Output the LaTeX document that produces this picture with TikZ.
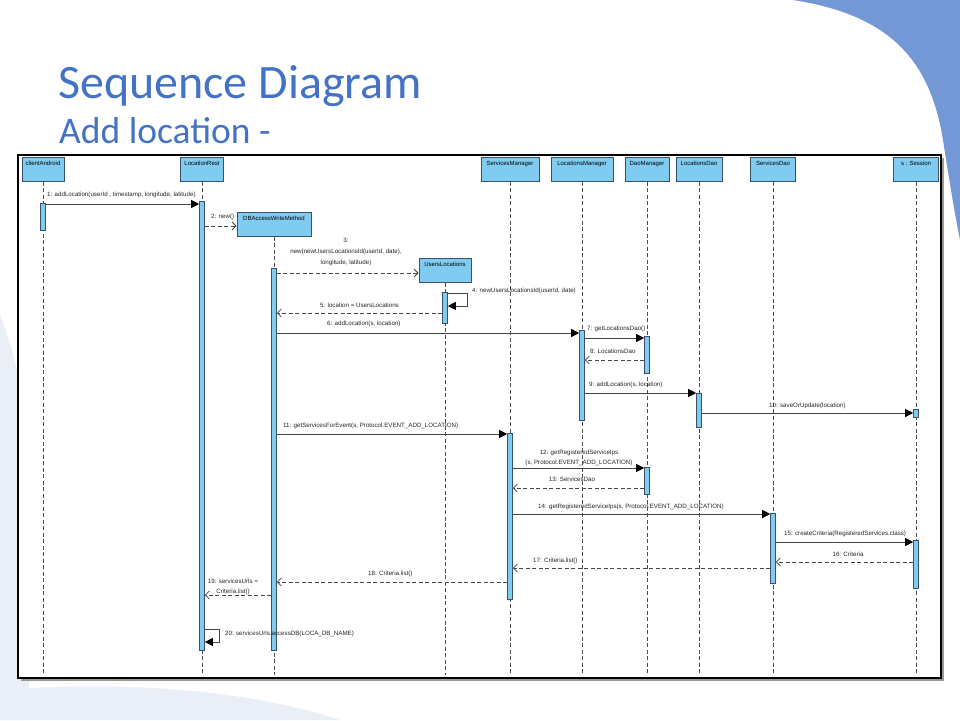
\documentclass[tikz,border=0pt]{standalone}
\usepackage{fontspec}
\setmainfont{Carlito}
\newfontfamily\labfont{Liberation Sans}
\usetikzlibrary{arrows.meta}
\definecolor{titleblue}{RGB}{68,114,196}
\definecolor{swoosh}{RGB}{116,151,214}
\definecolor{faint}{RGB}{234,239,247}
\definecolor{headfill}{RGB}{128,204,240}
\definecolor{headdraw}{RGB}{60,80,105}
\definecolor{msgcol}{RGB}{70,70,70}
\tikzset{
  lab/.style={font=\labfont\fontsize{6.2}{7}\selectfont, inner sep=0pt, text=black!85},
  head/.style={draw=headdraw, fill=headfill, line width=0.8pt, anchor=north, minimum height=24pt,
    inner sep=0pt, text height=6pt, text depth=13pt, font=\labfont\fontsize{6}{7}\selectfont},
  lifeline/.style={draw=black!70, line width=0.6pt, dash pattern=on 4pt off 2.5pt},
  act/.style={draw=headdraw, fill=headfill, line width=0.6pt, minimum width=5pt, inner sep=0pt, anchor=north},
  msg/.style={draw=msgcol, line width=0.8pt, -{Triangle[length=8pt,width=8pt,color=black]}},
  ret/.style={draw=msgcol, line width=0.8pt, dash pattern=on 4pt off 2.5pt, -{Straight Barb[length=4pt,width=8pt]}}
}
\begin{document}
\begin{tikzpicture}[x=1pt,y=-1pt]
\useasboundingbox (0,0) rectangle (960,720);
% background decoration
\fill[faint] (0,315) .. controls (35,400) and (45,560) .. (25,720) -- (0,720) -- cycle;
\fill[faint] (0,690) .. controls (120,680) and (250,690) .. (340,720) -- (0,720) -- cycle;
\fill[swoosh] (793,0) .. controls (890,15) and (930,60) .. (943,140) .. controls (950,185) and (955,215) .. (960,240) -- (960,0) -- cycle;
% titles
\node[anchor=base west, inner sep=0pt, text=titleblue, font=\fontsize{48}{52}\selectfont] (title) at (58,98) {Sequence Diagram};
\node[anchor=base west, inner sep=0pt, text=titleblue, font=\fontsize{37.5}{40}\selectfont] (subtitle) at (59,143) {Add location -};
% frame
\fill[black!40] (21,158) rectangle (944,681);
\draw[black, line width=1.2pt, fill=white] (18,155) rectangle (941,678);
% heads
\node[head, minimum width=42pt] (CA) at (43,157) {clientAndroid};
\node[head, minimum width=43pt] (LR) at (202,157) {LocationRest};
\node[head, minimum width=74pt] (DB) at (274,212) {DBAccessWriteMethod};
\node[head, minimum width=52pt] (UL) at (445,258) {UsersLocations};
\node[head, minimum width=58pt] (SM) at (510,157) {ServicesManager};
\node[head, minimum width=62pt] (LM) at (582,157) {LocationsManager};
\node[head, minimum width=44pt] (DM) at (647,157) {DaoManager};
\node[head, minimum width=46pt] (LD) at (699,157) {LocationsDao};
\node[head, minimum width=45pt] (SD) at (773,157) {ServicesDao};
\node[head, minimum width=45pt] (SS) at (916,157) {s : Session};
% lifeline ends
\foreach \n in {CA,LR,DB,UL,SM,LM,DM,LD,SD,SS}{
  \coordinate (\n end) at (\n.south |- 0,675);
  \draw[lifeline] (\n.south) -- (\n end);
}
% activations
\node[act, minimum height=27pt] (aCA) at (43,203) {};
\node[act, minimum height=449pt] (aLR) at (202,201) {};
\node[act, minimum height=382pt] (aDB) at (274,268) {};
\node[act, minimum height=31pt] (aUL) at (445,292) {};
\node[act, minimum height=90pt] (aLM) at (582,330) {};
\node[act, minimum height=37pt] (aDM1) at (647,336) {};
\node[act, minimum height=34pt] (aLD) at (699,393) {};
\node[act, minimum height=8pt] (aSS1) at (916,409) {};
\node[act, minimum height=166pt] (aSM) at (510,433) {};
\node[act, minimum height=27pt] (aDM2) at (647,467) {};
\node[act, minimum height=70pt] (aSD) at (773,513) {};
\node[act, minimum height=48pt] (aSS2) at (916,540) {};
% messages
\draw[msg] (aCA.east |- 0,204) -- (aLR.west |- 0,204);
\node[lab, anchor=west] (m1) at (47,195) {1: addLocation(userId , timestamp, longitude, latitude)};
\draw[ret] (aLR.east |- 0,226) -- (DB.west |- 0,226);
\node[lab, anchor=west] (m2) at (211,217) {2: new()};
\draw[ret] (aDB.east |- 0,273) -- (UL.west |- 0,273);
\node[lab, align=center, font=\labfont\fontsize{6.2}{11}\selectfont] (m3) at (346,252) {3:\\new(newUsersLocationsId(userId, date),\\longitude, latitude)};
\draw[msg] (aUL.east |- 0,293) -- ++(20,0) |- (aUL.east |- 0,306);
\node[lab, anchor=west] (m4) at (472,291) {4: newUsersLocationsId(userId, date)};
\draw[ret] (aUL.west |- 0,313) -- (aDB.east |- 0,313);
\node[lab, anchor=west] (m5) at (320,305) {5: location = UsersLocations};
\draw[msg] (aDB.east |- 0,333) -- (aLM.west |- 0,333);
\node[lab, anchor=west] (m6) at (327,324) {6: addLocation(s, location)};
\draw[msg] (aLM.east |- 0,338) -- (aDM1.west |- 0,338);
\node[lab, anchor=west] (m7) at (587,329) {7: getLocationsDao()};
\draw[ret] (aDM1.west |- 0,360) -- (aLM.east |- 0,360);
\node[lab, anchor=west] (m8) at (590,351) {8: LocationsDao};
\draw[msg] (aLM.east |- 0,393) -- (aLD.west |- 0,393);
\node[lab, anchor=west] (m9) at (589,385) {9: addLocation(s, location)};
\draw[msg] (aLD.east |- 0,413) -- (aSS1.west |- 0,413);
\node[lab, anchor=west] (m10) at (769,406) {10: saveOrUpdate(location)};
\draw[msg] (aDB.east |- 0,434) -- (aSM.west |- 0,434);
\node[lab, anchor=west] (m11) at (283,426) {11: getServicesForEvent(s, Protocol.EVENT\_ADD\_LOCATION)};
\draw[msg] (aSM.east |- 0,468) -- (aDM2.west |- 0,468);
\node[lab, align=center, font=\labfont\fontsize{6.2}{10}\selectfont] (m12) at (579,458) {12: getRegisteredServiceIps\\(s, Protocol.EVENT\_ADD\_LOCATION)};
\draw[ret] (aDM2.west |- 0,488) -- (aSM.east |- 0,488);
\node[lab] (m13) at (572,479) {13: ServicesDao};
\draw[msg] (aSM.east |- 0,514) -- (aSD.west |- 0,514);
\node[lab, anchor=west] (m14) at (538,507) {14: getRegisteredServiceIps(s, Protocol.EVENT\_ADD\_LOCATION)};
\draw[msg] (aSD.east |- 0,542) -- (aSS2.west |- 0,542);
\node[lab, anchor=west] (m15) at (784,534) {15: createCriteria(RegisteredServices.class)};
\draw[ret] (aSS2.west |- 0,562) -- (aSD.east |- 0,562);
\node[lab] (m16) at (848,554) {16: Criteria};
\draw[ret] (aSD.west |- 0,568) -- (aSM.east |- 0,568);
\node[lab, anchor=west] (m17) at (533,561) {17: Criteria.list()};
\draw[ret] (aSM.west |- 0,582) -- (aDB.east |- 0,582);
\node[lab, anchor=west] (m18) at (368,574) {18: Criteria.list()};
\draw[ret] (aDB.west |- 0,595) -- (aLR.east |- 0,595);
\node[lab, align=center, font=\labfont\fontsize{6.2}{10.5}\selectfont] (m19) at (233,587) {19: servicesUrls =\\Criteria.list()};
\draw[msg] (aLR.east |- 0,629) -- ++(15,0) |- (aLR.east |- 0,642);
\node[lab, anchor=west] (m20) at (225,634) {20: servicesUrls.accessDB(LOCA\_DB\_NAME)};
\end{tikzpicture}
\end{document}
